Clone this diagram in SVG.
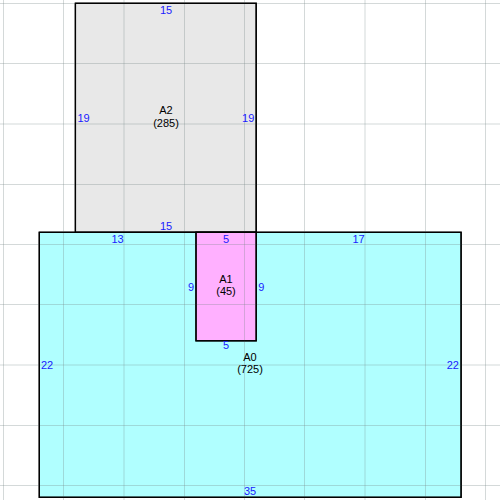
<svg xmlns="http://www.w3.org/2000/svg" width="500" height="500" viewBox="0 0 500 500">
<style>
.room{stroke:#000;stroke-width:1.3}
.grid line{stroke:#7a8a8a;stroke-opacity:0.32;stroke-width:1}
.dim{font-family:"Liberation Sans",Arial,sans-serif;font-size:11px;fill:#1a1aff}
.name{font-family:"Liberation Sans",Arial,sans-serif;font-size:11px;fill:#000;text-anchor:middle}
.m{text-anchor:middle}.e{text-anchor:end}
</style>
<rect width="500" height="500" fill="#fff"/>
<g id="A0">
<rect class="room" x="39.3" y="232.3" width="421.8" height="265" fill="#b0ffff"/>
</g>
<g id="A2">
<rect class="room" x="75.4" y="3.3" width="180.8" height="229" fill="#e8e8e8"/>
</g>
<g id="A1">
<rect class="room" x="196" y="232.3" width="60.2" height="108.5" fill="#ffb0ff"/>
</g>
<g class="grid">
<line x1="3.5" y1="0" x2="3.5" y2="500"/><line x1="63.5" y1="0" x2="63.5" y2="500"/><line x1="124" y1="0" x2="124" y2="500"/><line x1="184.5" y1="0" x2="184.5" y2="500"/><line x1="244.5" y1="0" x2="244.5" y2="500"/><line x1="304.5" y1="0" x2="304.5" y2="500"/><line x1="365" y1="0" x2="365" y2="500"/><line x1="425.5" y1="0" x2="425.5" y2="500"/><line x1="485.5" y1="0" x2="485.5" y2="500"/>
<line y1="3.5" x1="0" y2="3.5" x2="500"/><line y1="63.5" x1="0" y2="63.5" x2="500"/><line y1="124" x1="0" y2="124" x2="500"/><line y1="184.5" x1="0" y2="184.5" x2="500"/><line y1="244.5" x1="0" y2="244.5" x2="500"/><line y1="304.5" x1="0" y2="304.5" x2="500"/><line y1="365" x1="0" y2="365" x2="500"/><line y1="425.5" x1="0" y2="425.5" x2="500"/><line y1="485.5" x1="0" y2="485.5" x2="500"/>
</g>
<g id="borders" fill="none">
<rect class="room" x="39.3" y="232.3" width="421.8" height="265" fill="none"/>
<rect class="room" x="75.4" y="3.3" width="180.8" height="229" fill="none"/>
<rect class="room" x="196" y="232.3" width="60.2" height="108.5" fill="none"/>
</g>
<g id="labels-A2">
<text class="name" x="166" y="113.8">A2</text>
<text class="name" x="166" y="126.6">(285)</text>
<text class="dim m" x="166" y="14">15</text>
<text class="dim m" x="166" y="230">15</text>
<text class="dim" x="77.5" y="121.8">19</text>
<text class="dim e" x="254.3" y="121.8">19</text>
</g>
<g id="labels-A0">
<text class="name" x="250" y="360.6">A0</text>
<text class="name" x="250" y="373.3">(725)</text>
<text class="dim m" x="117.6" y="243.3">13</text>
<text class="dim m" x="358.5" y="243.3">17</text>
<text class="dim m" x="250" y="495">35</text>
<text class="dim" x="41" y="368.6">22</text>
<text class="dim e" x="459" y="368.6">22</text>
</g>
<g id="labels-A1">
<text class="name" x="226" y="282.6">A1</text>
<text class="name" x="226" y="295.4">(45)</text>
<text class="dim m" x="226" y="243.3">5</text>
<text class="dim m" x="226" y="349.3">5</text>
<text class="dim e" x="194.2" y="290.6">9</text>
<text class="dim" x="258.2" y="290.6">9</text>
</g>
</svg>
